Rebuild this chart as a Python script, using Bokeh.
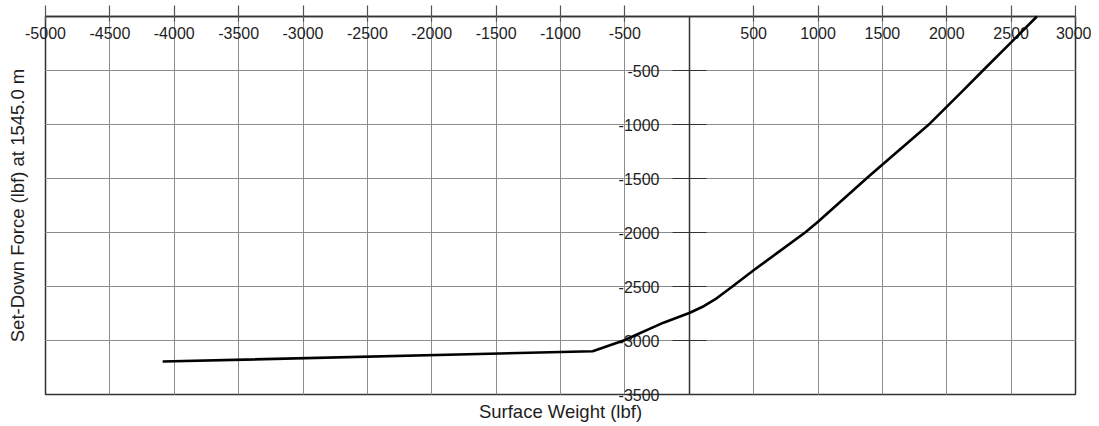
from bokeh.plotting import figure
from bokeh.models import LinearAxis, FixedTicker, Range1d, Grid
from bokeh.embed import file_html
from bokeh.resources import INLINE

# Data
surface_weight = [-4090, -750, -510, -200, 0, 100, 200, 330, 500, 700, 900, 1000, 1400, 1870, 2126, 2281, 2500, 2700]
setdown_force = [-3195, -3100, -3000, -2835, -2745, -2690, -2620, -2505, -2350, -2175, -2000, -1900, -1475, -990, -687, -500, -240, 0]

x_ticks = [-5000, -4500, -4000, -3500, -3000, -2500, -2000, -1500, -1000, -500, 0, 500, 1000, 1500, 2000, 2500, 3000]
y_ticks = [-3500, -3000, -2500, -2000, -1500, -1000, -500, 0]
x_label_ticks = [t for t in x_ticks if t != 0]
y_label_ticks = [t for t in y_ticks if t != 0]

x_title = "Surface Weight (lbf)"
y_title = "Set-Down Force (lbf) at 1545.0 m"

FONT = "Liberation Sans"
TEXT = "#1e1e1e"
GRID = "#8c8c8c"
DARK = "#333333"

p = figure(width=1091, height=424,
           x_range=Range1d(-5000, 3000), y_range=Range1d(-3500, 0),
           output_backend="svg", toolbar_location=None,
           x_axis_location=None, y_axis_location=None,
           min_border_left=45, min_border_right=16, min_border_top=16, min_border_bottom=30)
p.background_fill_color = "white"
p.border_fill_color = "white"
p.outline_line_color = DARK
p.outline_line_width = 1.5

# grids
p.add_layout(Grid(dimension=0, ticker=FixedTicker(ticks=x_ticks), grid_line_color=GRID, grid_line_width=1))
p.add_layout(Grid(dimension=1, ticker=FixedTicker(ticks=y_ticks), grid_line_color=GRID, grid_line_width=1))

# x tick axis along the top edge, labels placed just beneath the line
xa = LinearAxis(ticker=FixedTicker(ticks=x_label_ticks))
xa.axis_line_color = DARK
xa.axis_line_width = 1.5
xa.major_tick_line_color = "#555555"
xa.major_tick_line_width = 1.2
xa.major_tick_out = 11
xa.major_tick_in = 5
xa.minor_tick_line_color = None
xa.major_label_standoff = -33
xa.major_label_text_font = FONT
xa.major_label_text_font_size = "16px"
xa.major_label_text_color = TEXT
xa.major_label_overrides = {t: str(t) for t in x_label_ticks}
p.add_layout(xa, "above")

# y axis line and ticks drawn along x = 0
ya = LinearAxis(fixed_location=0, ticker=FixedTicker(ticks=y_label_ticks))
ya.axis_line_color = DARK
ya.axis_line_width = 1.5
ya.major_tick_line_color = DARK
ya.major_tick_in = 17
ya.major_tick_out = 17
ya.minor_tick_line_color = None
ya.major_label_text_font_size = "0px"
ya.major_label_text_color = None
p.add_layout(ya, "left")

# y tick labels (pulled in next to the x = 0 line) and the y title
yl = LinearAxis(ticker=FixedTicker(ticks=y_label_ticks), axis_label=y_title)
yl.axis_line_color = None
yl.major_tick_line_color = None
yl.major_tick_in = 0
yl.major_tick_out = 0
yl.minor_tick_line_color = None
yl.major_label_standoff = -614
yl.major_label_text_font = FONT
yl.major_label_text_font_size = "16px"
yl.major_label_text_color = TEXT
yl.major_label_overrides = {t: str(t) for t in y_label_ticks}
yl.axis_label_standoff = 588
yl.axis_label_text_font = FONT
yl.axis_label_text_font_size = "18.5px"
yl.axis_label_text_font_style = "normal"
yl.axis_label_text_color = TEXT
p.add_layout(yl, "left")

# x title
xt = LinearAxis(axis_label=x_title, ticker=FixedTicker(ticks=[]))
xt.axis_line_color = None
xt.major_tick_line_color = None
xt.minor_tick_line_color = None
xt.major_label_text_font_size = "0px"
xt.axis_label_text_font = FONT
xt.axis_label_text_font_size = "18.5px"
xt.axis_label_text_font_style = "normal"
xt.axis_label_text_color = TEXT
xt.axis_label_standoff = 6
p.add_layout(xt, "below")

p.line(surface_weight, setdown_force, line_color="black", line_width=2.6, level="overlay")

open("out.html", "w").write(file_html(p, INLINE))
